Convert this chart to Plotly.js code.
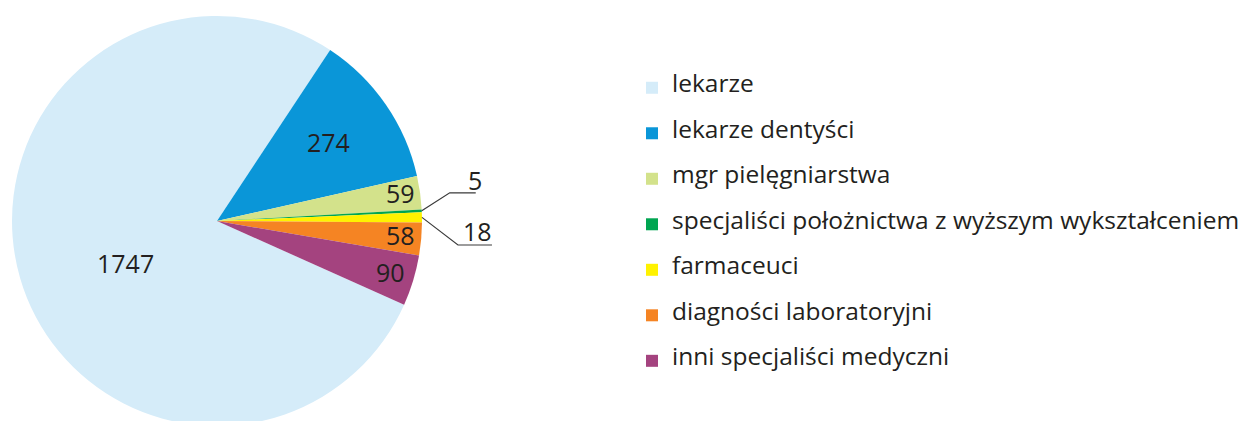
<!DOCTYPE html>
<html><head><meta charset="utf-8">
<script src="https://cdn.plot.ly/plotly-3.0.1.min.js"></script>
<style>html,body{margin:0;padding:0;overflow:hidden;background:#fff;width:1239px;height:421px}</style>
</head><body><div id="chart"></div>
<script>
// ---- data ----
const categories = ['lekarze', 'lekarze dentyści', 'mgr pielęgniarstwa',
  'specjaliści położnictwa z wyższym wykształceniem', 'farmaceuci',
  'diagności laboratoryjni', 'inni specjaliści medyczni'];
const values = [1747, 274, 59, 5, 18, 58, 90];
const valueLabels = ['1747', '274', '59', '5', '18', '58', '90'];

// ---- styles ----
const colors = ['#d5ecf9', '#0a96d8', '#d3e28b', '#00a551', '#fff200', '#f58423', '#a4437f'];
const W = 1239, H = 432;
const cx = 217, cy = 221, R = 205;   // pie centre / radius in px
const rotation = 114.1;
// label placement: fraction of radius + angle nudge, or outside with leader line
const labelStyle = [
  {r: 0.49, da: -8}, {r: 0.668, da: -1}, {r: 0.908, da: -1},
  {out: true, ex: 28, ey: -18, len: 26, tx: 53, ty: -32},
  {out: true, ex: 36, ey: 27.6, len: 34, tx: 56, ty: 13},
  {r: 0.895, da: -1}, {r: 0.882, da: -1}
];
const FONT = 'Open Sans, Noto Sans, sans-serif';
const TXT = '#231f20';

const px = x => x / W, py = y => 1 - y / H;

const total = values.reduce((a, b) => a + b, 0);
const annotations = [], shapes = [];
let acc = 0;
values.forEach((v, i) => {
  const mid = rotation + (acc + v / 2) / total * 360;
  acc += v;
  const st = labelStyle[i];
  if (!st.out) {
    const a = (mid + st.da) * Math.PI / 180;
    const x = cx + R * st.r * Math.sin(a), y = cy - R * st.r * Math.cos(a);
    annotations.push({xref: 'paper', yref: 'paper', x: px(x), y: py(y + 1),
      text: valueLabels[i], showarrow: false, xanchor: 'center', yanchor: 'middle',
      font: {family: FONT, size: 25, color: TXT}});
  } else {
    const a = mid * Math.PI / 180;
    const x0 = cx + R * Math.sin(a), y0 = cy - R * Math.cos(a);
    const x1 = x0 + st.ex, y1 = y0 + st.ey, x2 = x1 + st.len;
    shapes.push({type: 'path', xref: 'paper', yref: 'paper',
      path: `M${px(x0)},${py(y0)} L${px(x1)},${py(y1)} L${px(x2)},${py(y1)}`,
      line: {color: '#3a3a3a', width: 1.2}});
    annotations.push({xref: 'paper', yref: 'paper', x: px(x0 + st.tx), y: py(y0 + st.ty + 1),
      text: valueLabels[i], showarrow: false, xanchor: 'center', yanchor: 'middle',
      font: {family: FONT, size: 25, color: TXT}});
  }
});

const legendNames = categories.map(c => ' <br><span style="font-size:24.5px">' + c + '</span><br> ');

const trace = {
  type: 'pie',
  labels: legendNames,
  values: values,
  sort: false,
  direction: 'clockwise',
  rotation: rotation,
  textinfo: 'none',
  hoverinfo: 'label+value',
  marker: {colors: colors, line: {width: 0}},
  domain: {x: [(cx - R) / W, (cx + R) / W], y: [1 - (cy + R) / H, 1 - (cy - R) / H]},
  showlegend: true
};

const layout = {
  width: W, height: H,
  margin: {l: 0, r: 0, t: 0, b: 0, autoexpand: false},
  paper_bgcolor: '#fff',
  font: {family: FONT, color: TXT},
  showlegend: true,
  legend: {x: px(672 - 40), xanchor: 'left', y: py(82 - 22), yanchor: 'top',
    font: {family: FONT, size: 10.9, color: TXT}, valign: 'middle',
    bgcolor: 'rgba(0,0,0,0)', borderwidth: 0},
  annotations: annotations,
  shapes: shapes
};

Plotly.newPlot('chart', [trace], layout, {displayModeBar: false, staticPlot: true});
</script>
</body></html>
